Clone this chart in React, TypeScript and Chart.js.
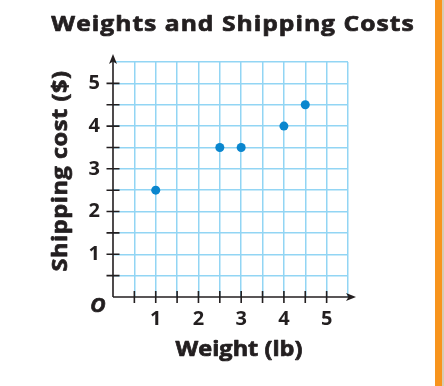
import React, { useEffect, useRef } from "react";
import { Chart, registerables } from "chart.js";

Chart.register(...registerables);

// ---- data ----
const weights = [1, 2.5, 3, 4, 4.5];
const costs = [2.5, 3.5, 3.5, 4, 4.5];
const xTickLabels = [1, 2, 3, 4, 5];
const yTickLabels = [1, 2, 3, 4, 5];
const tickMarks = [0.5, 1, 1.5, 2, 2.5, 3, 3.5, 4, 4.5, 5];
const axisMax = 5.5;
const titleText = "Weights and Shipping Costs";
const xTitle = "Weight (lb)";
const yTitle = "Shipping cost ($)";
const originLabel = "O";

const FONT = "'Open Sans', 'DejaVu Sans', sans-serif";
const INK = "#231F20";
const GRID = "#92D5F4";
const DOT = "#0A86CE";

function heavyText(ctx: any, text: string, x: number, y: number, font: string, sx: number, spacing: number, rot = 0) {
  ctx.save();
  ctx.translate(x, y);
  if (rot) ctx.rotate(rot);
  ctx.scale(sx, 1);
  ctx.font = font;
  if ("letterSpacing" in ctx) ctx.letterSpacing = `${spacing}px`;
  ctx.fillStyle = INK;
  ctx.strokeStyle = INK;
  ctx.lineWidth = 0.7;
  ctx.lineJoin = "round";
  ctx.textAlign = "center";
  ctx.textBaseline = "alphabetic";
  ctx.fillText(text, 0, 0);
  ctx.strokeText(text, 0, 0);
  ctx.restore();
}

const axesPlugin = {
  id: "axesArrows",
  beforeDatasetsDraw(chart: any) {
    const { ctx } = chart;
    const x = chart.scales.x;
    const y = chart.scales.y;
    const x0 = x.getPixelForValue(0);
    const y0 = y.getPixelForValue(0);
    const xTip = x.getPixelForValue(axisMax) + 8;
    const yTip = y.getPixelForValue(axisMax) - 8;
    ctx.save();
    ctx.strokeStyle = INK;
    ctx.fillStyle = INK;
    ctx.lineWidth = 1.6;
    ctx.beginPath();
    ctx.moveTo(x0, y0);
    ctx.lineTo(xTip - 4, y0);
    ctx.moveTo(x0, y0);
    ctx.lineTo(x0, yTip + 4);
    for (const v of tickMarks) {
      const px = x.getPixelForValue(v);
      ctx.moveTo(px, y0 - 6);
      ctx.lineTo(px, y0 + 6);
      const py = y.getPixelForValue(v);
      ctx.moveTo(x0 - 6.5, py);
      ctx.lineTo(x0 + 6.5, py);
    }
    ctx.stroke();
    // arrow heads
    ctx.beginPath();
    ctx.moveTo(xTip, y0);
    ctx.lineTo(xTip - 10, y0 - 4);
    ctx.lineTo(xTip - 7.5, y0);
    ctx.lineTo(xTip - 10, y0 + 4);
    ctx.closePath();
    ctx.fill();
    ctx.beginPath();
    ctx.moveTo(x0, yTip);
    ctx.lineTo(x0 - 4, yTip + 10);
    ctx.lineTo(x0, yTip + 7.5);
    ctx.lineTo(x0 + 4, yTip + 10);
    ctx.closePath();
    ctx.fill();
    ctx.restore();
  },
  afterDraw(chart: any) {
    const { ctx } = chart;
    heavyText(ctx, titleText, 233, 31, `700 22px ${FONT}`, 1.12, 0.9);
    heavyText(ctx, xTitle, 239, 356, `700 21px ${FONT}`, 1.12, 0);
    heavyText(ctx, originLabel, 98, 312, `italic 700 20px ${FONT}`, 1.05, 0);
    heavyText(ctx, yTitle, 67, 171, `700 21px ${FONT}`, 1.12, 0.5, -Math.PI / 2);
  },
};

export default function App() {
  const ref = useRef<HTMLCanvasElement | null>(null);
  useEffect(() => {
    if (!ref.current) return;
    const chart = new Chart(ref.current, {
      type: "scatter",
      data: {
        datasets: [
          {
            data: weights.map((w, i) => ({ x: w, y: costs[i] })),
            backgroundColor: DOT,
            borderWidth: 0,
            pointRadius: 4.5,
            pointHoverRadius: 4.5,
          },
        ],
      },
      options: {
        responsive: false,
        animation: false,
        events: [],
        layout: { padding: { top: 62, right: 96, left: 0, bottom: 0 } },
        plugins: { legend: { display: false }, title: { display: false }, tooltip: { enabled: false } },
        scales: {
          x: {
            type: "linear",
            min: 0,
            max: axisMax,
            afterFit: (s: any) => {
              s.height = 89;
            },
            border: { display: false },
            grid: {
              color: (c: any) => (c.tick && c.tick.value === 0 ? "rgba(0,0,0,0)" : GRID),
              lineWidth: 1.5,
              drawTicks: false,
            },
            ticks: {
              stepSize: 0.5,
              autoSkip: false,
              maxRotation: 0,
              padding: 10,
              color: INK,
              font: { family: FONT, size: 20, weight: "bold" },
              callback: (v: any) => (xTickLabels.includes(Number(v)) ? String(v) : ""),
            },
          },
          y: {
            type: "linear",
            min: 0,
            max: axisMax,
            afterFit: (s: any) => {
              s.width = 113;
            },
            border: { display: false },
            grid: {
              color: (c: any) => (c.tick && c.tick.value === 0 ? "rgba(0,0,0,0)" : GRID),
              lineWidth: 1.5,
              drawTicks: false,
            },
            ticks: {
              stepSize: 0.5,
              autoSkip: false,
              padding: 13,
              color: INK,
              font: { family: FONT, size: 20, weight: "bold" },
              callback: (v: any) => (yTickLabels.includes(Number(v)) ? String(v) : ""),
            },
          },
        },
      },
      plugins: [axesPlugin],
    });
    return () => chart.destroy();
  }, []);
  return (
    <div style={{ position: "absolute", left: 0, top: 0, width: 444, height: 386, background: "#fff" }}>
      <canvas ref={ref} width={444} height={386} style={{ display: "block" }} />
      <div style={{ position: "absolute", left: 435, top: 0, width: 7, height: 386, background: "#F7941D" }} />
      <div style={{ position: "absolute", left: 442, top: 0, width: 2, height: 386, background: "#D8CBB2" }} />
    </div>
  );
}
